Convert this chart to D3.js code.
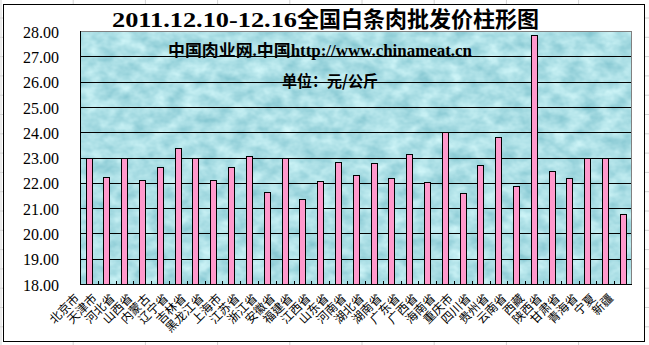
<!DOCTYPE html>
<html>
<head>
<meta charset="utf-8">
<script src="https://cdn.jsdelivr.net/npm/d3@7"></script>
<style>
  body { margin: 0; background: #fff; }
  svg { display: block; }
</style>
</head>
<body>
<div id="chart"></div>
<script>
// province names (x axis)
var provinces = ["北京市", "天津市", "河北省", "山西省", "内蒙古", "辽宁省", "吉林省", "黑龙江省",
  "上海市", "江苏省", "浙江省", "安徽省", "福建省", "江西省", "山东省", "河南省",
  "湖北省", "湖南省", "广东省", "广西省", "海南省", "重庆市", "四川省", "贵州省",
  "云南省", "西藏", "陕西省", "甘肃省", "青海省", "宁夏", "新疆"];

// wholesale price, yuan/kg
var prices = [23.00, 22.22, 22.97, 22.10, 22.61, 23.36, 22.99, 22.10,
  22.61, 23.04, 21.62, 22.97, 21.35, 22.06, 22.81, 22.30,
  22.77, 22.18, 23.13, 22.02, 24.00, 21.58, 22.69, 23.80,
  21.86, 27.83, 22.45, 22.18, 23.00, 23.00, 20.75];

var yTicks = [18, 19, 20, 21, 22, 23, 24, 25, 26, 27, 28];

var titleDate = "2011.12.10-12.16";
var titleText = "全国白条肉批发价柱形图";
var subTitle1 = "中国肉业网.中国http://www.chinameat.cn";
var subTitle2 = "单位：元/公斤";

var W = 649, H = 345;
var plot = {left: 80, right: 632, top: 31, bottom: 284};

var svg = d3.select("#chart").append("svg")
  .attr("width", W)
  .attr("height", H);

// water-drop texture for the plot area
var defs = svg.append("defs");
var filt = defs.append("filter")
  .attr("id", "water")
  .attr("color-interpolation-filters", "sRGB")
  .attr("x", 0).attr("y", 0).attr("width", 1).attr("height", 1);
filt.append("feTurbulence")
  .attr("type", "fractalNoise")
  .attr("baseFrequency", "0.06 0.08")
  .attr("numOctaves", 3)
  .attr("seed", 7);
filt.append("feColorMatrix")
  .attr("type", "matrix")
  .attr("values", "0.38 0 0 0 0.485  0.24 0 0 0 0.755  0.2 0 0 0 0.80  0 0 0 0 1");

// excel sheet grid behind the chart
var sheet = svg.append("g");
sheet.selectAll("line.col")
  .data(d3.range(1, W, 72.2))
  .enter().append("line")
  .attr("x1", d => d).attr("x2", d => d)
  .attr("y1", 0).attr("y2", H)
  .attr("stroke", "#d4d4d4");
sheet.selectAll("line.row")
  .data(d3.range(-1.3, H, 19.3))
  .enter().append("line")
  .attr("x1", 0).attr("x2", W)
  .attr("y1", d => d).attr("y2", d => d)
  .attr("stroke", "#d4d4d4");

// chart area
svg.append("rect")
  .attr("x", 3.5).attr("y", 4.5)
  .attr("width", 641).attr("height", 337)
  .attr("fill", "#fff")
  .attr("stroke", "#000");

var x = d3.scaleBand()
  .domain(provinces)
  .range([plot.left, plot.right])
  .padding(0);

var y = d3.scaleLinear()
  .domain([18, 28])
  .range([plot.bottom, plot.top]);

var barW = x.bandwidth() * 0.365;

// plot area background
svg.append("rect")
  .attr("x", plot.left).attr("y", plot.top)
  .attr("width", plot.right - plot.left)
  .attr("height", plot.bottom - plot.top)
  .attr("filter", "url(#water)");

// gridlines
svg.append("g")
  .selectAll("line")
  .data(yTicks.slice(1, -1))
  .enter().append("line")
  .attr("x1", plot.left).attr("x2", plot.right)
  .attr("y1", d => Math.round(y(d)) + 0.5)
  .attr("y2", d => Math.round(y(d)) + 0.5)
  .attr("stroke", "#000");

// plot border
svg.append("rect")
  .attr("x", plot.left + 0.5).attr("y", plot.top + 0.5)
  .attr("width", plot.right - plot.left - 1)
  .attr("height", plot.bottom - plot.top)
  .attr("fill", "none")
  .attr("stroke", "#808080");

// bars
svg.append("g")
  .selectAll("rect")
  .data(prices)
  .enter().append("rect")
  .attr("x", (d, i) => Math.round(x(provinces[i]) + (x.bandwidth() - barW) / 2) + 0.5)
  .attr("y", d => Math.round(y(d)) + 0.5)
  .attr("width", Math.round(barW))
  .attr("height", d => Math.round(y(18)) - Math.round(y(d)))
  .attr("fill", "#ff99cc")
  .attr("stroke", "#000");

// y axis line
svg.append("line")
  .attr("x1", plot.left + 0.5).attr("x2", plot.left + 0.5)
  .attr("y1", plot.top).attr("y2", plot.bottom)
  .attr("stroke", "#000");

// x axis with inside ticks on category borders
var xa = svg.append("g");
xa.append("line")
  .attr("x1", plot.left).attr("x2", plot.right)
  .attr("y1", Math.round(y(18)) + 0.5).attr("y2", Math.round(y(18)) + 0.5)
  .attr("stroke", "#000");
xa.selectAll("line.tk")
  .data(provinces.slice(1))
  .enter().append("line")
  .attr("x1", d => Math.round(x(d)) + 0.5)
  .attr("x2", d => Math.round(x(d)) + 0.5)
  .attr("y1", Math.round(y(18)) - 3)
  .attr("y2", Math.round(y(18)))
  .attr("stroke", "#000");

// y labels
svg.append("g")
  .selectAll("text")
  .data(yTicks)
  .enter().append("text")
  .attr("x", 59)
  .attr("y", d => y(d) + 1)
  .attr("dy", "0.35em")
  .attr("text-anchor", "end")
  .style("font-family", "'Liberation Serif', serif")
  .style("font-size", "16px")
  .text(d3.format(".2f"));

// x labels, rotated 45 degrees
svg.append("g")
  .selectAll("text")
  .data(provinces)
  .enter().append("text")
  .attr("transform", d => "translate(" + (x(d) + x.bandwidth() / 2 - 12) + "," + (plot.bottom + 12) + ") rotate(-45)")
  .attr("dy", "0.35em")
  .attr("text-anchor", "end")
  .style("font-family", "'Noto Sans CJK SC', sans-serif")
  .style("font-size", "12px")
  .text(d => d);

// title
var t = svg.append("text")
  .attr("x", 112)
  .attr("y", 27)
  .style("font-family", "'Liberation Serif', 'Noto Sans CJK SC', serif")
  .style("font-weight", "bold")
  .style("font-size", "22px");
t.append("tspan").attr("textLength", 185).attr("lengthAdjust", "spacingAndGlyphs").text(titleDate);
t.append("tspan").style("font-family", "'Noto Sans CJK SC', sans-serif").text(titleText);

svg.append("text")
  .attr("x", 168)
  .attr("y", 56)
  .attr("textLength", 304)
  .attr("lengthAdjust", "spacingAndGlyphs")
  .style("font-family", "'Liberation Serif', 'Noto Sans CJK SC', serif")
  .style("font-weight", "bold")
  .style("font-size", "16px")
  .text(subTitle1);

svg.append("text")
  .attr("x", 282)
  .attr("y", 87)
  .attr("textLength", 96)
  .attr("lengthAdjust", "spacingAndGlyphs")
  .style("font-family", "'Noto Sans CJK SC', sans-serif")
  .style("font-weight", "bold")
  .style("font-size", "16px")
  .text(subTitle2);
</script>
</body>
</html>
